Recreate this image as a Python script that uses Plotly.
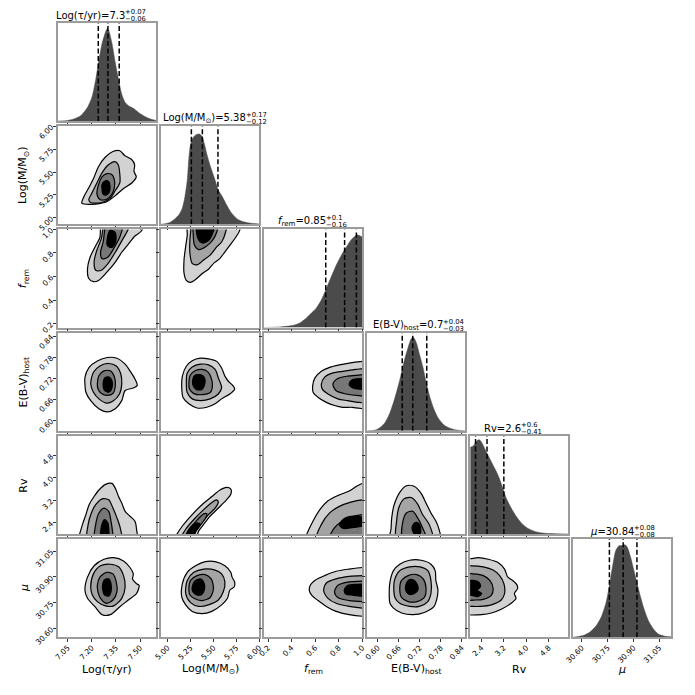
import plotly.graph_objects as go

# ---------------- data ----------------
LABELS = ["Log(τ/yr)", "Log(M/M<sub>⊙</sub>)", "<i>f</i><sub>rem</sub>",
          "E(B-V)<sub>host</sub>", "Rv", "<i>μ</i>"]
RANGES = [[6.99, 7.60], [4.93, 6.00], [0.167, 1.0], [0.57, 0.85], [2.0, 5.5], [30.55, 31.12]]
TICKVALS = [[7.05, 7.20, 7.35, 7.50], [5.00, 5.25, 5.50, 5.75, 6.00], [0.2, 0.4, 0.6, 0.8, 1.0],
            [0.60, 0.66, 0.72, 0.78, 0.84], [2.4, 3.2, 4.0, 4.8], [30.60, 30.75, 30.90, 31.05]]
TICKTEXT = [["7.05", "7.20", "7.35", "7.50"], ["5.00", "5.25", "5.50", "5.75", "6.00"],
            ["0.2", "0.4", "0.6", "0.8", "1.0"], ["0.60", "0.66", "0.72", "0.78", "0.84"],
            ["2.4", "3.2", "4.0", "4.8"], ["30.60", "30.75", "30.90", "31.05"]]
QUANTILES = [[7.24, 7.30, 7.37], [5.26, 5.38, 5.55], [0.69, 0.85, 0.95],
             [0.67, 0.70, 0.74], [2.19, 2.60, 3.20], [30.76, 30.84, 30.92]]
TITLE_MAIN = ["Log(τ/yr)=7.3", "Log(M/M<sub>⊙</sub>)=5.38", "<i>f</i><sub>rem</sub>=0.85",
              "E(B-V)<sub>host</sub>=0.7", "Rv=2.6", "<i>μ</i>=30.84"]
TITLE_PLUS = ["+0.07", "+0.17", "+0.1", "+0.04", "+0.6", "+0.08"]
TITLE_MINUS = ["−0.06", "−0.12", "−0.16", "−0.03", "−0.41", "−0.08"]

# 1-D marginal densities (normalised to peak = 1)
HIST_TAU_X = [6.990, 7.051, 7.092, 7.132, 7.173, 7.203, 7.224, 7.244, 7.264, 7.285, 7.295, 7.305,
              7.325, 7.346, 7.366, 7.386, 7.407, 7.427, 7.458, 7.488, 7.519, 7.559, 7.600]
HIST_TAU_Y = [0, 0.007, 0.025, 0.060, 0.149, 0.273, 0.450, 0.663, 0.844, 0.965, 1.0, 0.982,
              0.844, 0.631, 0.450, 0.291, 0.202, 0.167, 0.138, 0.096, 0.060, 0.025, 0.007]
HIST_M_X = [4.930, 5.019, 5.073, 5.126, 5.162, 5.190, 5.215, 5.233, 5.251, 5.276, 5.312, 5.347, 5.376,
            5.404, 5.429, 5.465, 5.519, 5.554, 5.597, 5.643, 5.697, 5.768, 5.840, 5.911, 6.000]
HIST_M_Y = [0, 0.018, 0.054, 0.108, 0.181, 0.307, 0.487, 0.740, 0.884, 0.957, 0.993, 1.0, 0.975,
            0.884, 0.776, 0.650, 0.487, 0.379, 0.307, 0.217, 0.126, 0.054, 0.025, 0.011, 0.004]
HIST_F_X = [0.167, 0.306, 0.389, 0.445, 0.486, 0.528, 0.570, 0.611, 0.653, 0.695, 0.736, 0.778,
            0.820, 0.862, 0.903, 0.931, 0.959, 0.978, 1.000]
HIST_F_Y = [0, 0.007, 0.018, 0.035, 0.063, 0.105, 0.158, 0.211, 0.298, 0.421, 0.544, 0.667,
            0.772, 0.860, 0.940, 0.975, 0.996, 0.989, 0.975]
HIST_E_X = [0.570, 0.593, 0.607, 0.621, 0.635, 0.649, 0.663, 0.675, 0.687, 0.696, 0.702, 0.710,
            0.719, 0.729, 0.738, 0.747, 0.759, 0.772, 0.789, 0.808, 0.827, 0.850]
HIST_E_Y = [0, 0.007, 0.035, 0.088, 0.193, 0.351, 0.544, 0.737, 0.895, 0.989, 1.0, 0.947,
            0.825, 0.684, 0.526, 0.386, 0.246, 0.140, 0.063, 0.025, 0.007, 0]
HIST_RV_X = [2.000, 2.117, 2.233, 2.327, 2.408, 2.525, 2.642, 2.817, 2.992, 3.167, 3.283, 3.458,
             3.633, 3.867, 4.100, 4.333, 4.683, 5.033, 5.500]
HIST_RV_Y = [0.920, 0.938, 0.990, 1.0, 0.972, 0.903, 0.833, 0.729, 0.625, 0.486, 0.382, 0.278,
             0.191, 0.104, 0.052, 0.024, 0.007, 0.003, 0]
HIST_MU_X = [30.550, 30.607, 30.645, 30.683, 30.711, 30.740, 30.759, 30.778, 30.797, 30.816, 30.831,
             30.850, 30.864, 30.883, 30.902, 30.921, 30.940, 30.959, 30.987, 31.016, 31.044,
             31.082, 31.120]
HIST_MU_Y = [0, 0.018, 0.053, 0.124, 0.212, 0.371, 0.548, 0.760, 0.936, 0.989, 0.989, 1.0, 0.972,
             0.866, 0.724, 0.583, 0.442, 0.318, 0.177, 0.088, 0.035, 0.011, 0.004]
HIST_TOP = [1.064, 1.087, 1.056, 1.053, 1.042, 1.06]

# 2-D credible-region outlines (outer -> inner)
C_TAU_M = [
    [(7.137, 5.161), (7.151, 5.233), (7.181, 5.329), (7.212, 5.436), (7.242, 5.561), (7.283, 5.661),
     (7.328, 5.721), (7.374, 5.732), (7.405, 5.679), (7.446, 5.639), (7.466, 5.579), (7.462, 5.507),
     (7.476, 5.447), (7.450, 5.383), (7.395, 5.318), (7.344, 5.240), (7.293, 5.176), (7.222, 5.151),
     (7.151, 5.151)],
    [(7.181, 5.197), (7.202, 5.276), (7.232, 5.383), (7.263, 5.490), (7.303, 5.579), (7.344, 5.614),
     (7.364, 5.579), (7.374, 5.472), (7.374, 5.383), (7.344, 5.293), (7.313, 5.211), (7.263, 5.168),
     (7.191, 5.168)],
    [(7.232, 5.258), (7.242, 5.365), (7.263, 5.447), (7.293, 5.482), (7.324, 5.472), (7.340, 5.418),
     (7.340, 5.329), (7.324, 5.258), (7.293, 5.204), (7.252, 5.197)],
    [(7.263, 5.365), (7.279, 5.400), (7.303, 5.400), (7.313, 5.347), (7.307, 5.276), (7.287, 5.247),
     (7.267, 5.268), (7.263, 5.318)],
]
C_TAU_F = [
    [(7.264, 1.056), (7.519, 1.056), (7.508, 0.986), (7.468, 0.944), (7.427, 0.875), (7.386, 0.806),
     (7.346, 0.722), (7.295, 0.639), (7.244, 0.569), (7.210, 0.556), (7.181, 0.583), (7.173, 0.667),
     (7.189, 0.764), (7.218, 0.847), (7.250, 0.931)],
    [(7.285, 1.056), (7.437, 1.056), (7.421, 0.986), (7.386, 0.903), (7.346, 0.806), (7.299, 0.708),
     (7.258, 0.653), (7.224, 0.653), (7.214, 0.722), (7.230, 0.819), (7.258, 0.917)],
    [(7.295, 1.056), (7.392, 1.056), (7.376, 0.944), (7.340, 0.847), (7.299, 0.764), (7.264, 0.750),
     (7.254, 0.806), (7.270, 0.889)],
    [(7.299, 0.944), (7.315, 0.994), (7.346, 0.972), (7.348, 0.894), (7.325, 0.847), (7.297, 0.861)],
]
C_TAU_E = [
    [(7.157, 0.722), (7.183, 0.751), (7.234, 0.769), (7.295, 0.779), (7.356, 0.777), (7.407, 0.760),
     (7.437, 0.741), (7.468, 0.718), (7.482, 0.699), (7.458, 0.692), (7.407, 0.685), (7.386, 0.656),
     (7.346, 0.633), (7.295, 0.624), (7.244, 0.633), (7.193, 0.656), (7.163, 0.680), (7.157, 0.704)],
    [(7.193, 0.704), (7.210, 0.737), (7.250, 0.755), (7.305, 0.762), (7.352, 0.755), (7.380, 0.732),
     (7.386, 0.704), (7.372, 0.675), (7.332, 0.655), (7.291, 0.649), (7.244, 0.661), (7.210, 0.680)],
    [(7.234, 0.704), (7.244, 0.727), (7.275, 0.741), (7.315, 0.741), (7.340, 0.724), (7.346, 0.699),
     (7.332, 0.677), (7.295, 0.671), (7.258, 0.677), (7.238, 0.690)],
    [(7.270, 0.704), (7.279, 0.720), (7.305, 0.724), (7.325, 0.713), (7.325, 0.692), (7.305, 0.680),
     (7.279, 0.685)],
]
C_TAU_RV = [
    [(7.122, 1.638), (7.122, 1.931), (7.142, 2.341), (7.163, 2.692), (7.183, 3.044), (7.214, 3.336),
     (7.244, 3.570), (7.285, 3.770), (7.325, 3.805), (7.346, 3.629), (7.366, 3.336), (7.386, 3.102),
     (7.407, 2.809), (7.437, 2.634), (7.468, 2.458), (7.478, 2.165), (7.478, 1.638)],
    [(7.173, 1.638), (7.177, 2.341), (7.197, 2.751), (7.224, 3.044), (7.264, 3.254), (7.305, 3.219),
     (7.331, 2.926), (7.356, 2.575), (7.376, 2.224), (7.386, 1.638)],
    [(7.218, 1.638), (7.224, 2.341), (7.244, 2.751), (7.275, 2.926), (7.305, 2.809), (7.319, 2.458),
     (7.331, 1.990), (7.336, 1.638)],
    [(7.258, 1.638), (7.260, 2.283), (7.279, 2.517), (7.299, 2.400), (7.307, 1.990), (7.307, 1.638)],
]
C_TAU_MU = [
    [(7.157, 30.823), (7.173, 30.899), (7.214, 30.965), (7.275, 31.003), (7.336, 31.012),
     (7.397, 30.993), (7.437, 30.955), (7.458, 30.918), (7.453, 30.889), (7.478, 30.861),
     (7.494, 30.851), (7.478, 30.804), (7.427, 30.766), (7.376, 30.729), (7.315, 30.681),
     (7.264, 30.681), (7.218, 30.729), (7.173, 30.776)],
    [(7.193, 30.842), (7.210, 30.918), (7.254, 30.965), (7.315, 30.974), (7.366, 30.959),
     (7.397, 30.908), (7.407, 30.842), (7.386, 30.776), (7.336, 30.732), (7.285, 30.732),
     (7.234, 30.757), (7.203, 30.795)],
    [(7.234, 30.851), (7.250, 30.899), (7.291, 30.927), (7.331, 30.918), (7.352, 30.870),
     (7.356, 30.814), (7.331, 30.766), (7.291, 30.747), (7.254, 30.776), (7.238, 30.814)],
    [(7.268, 30.861), (7.279, 30.884), (7.305, 30.889), (7.319, 30.861), (7.319, 30.814),
     (7.305, 30.789), (7.279, 30.795), (7.268, 30.823)],
]
C_M_F = [
    [(5.226, 1.101), (5.797, 1.101), (5.786, 0.990), (5.733, 0.921), (5.679, 0.865), (5.626, 0.810),
     (5.572, 0.754), (5.511, 0.718), (5.447, 0.662), (5.376, 0.624), (5.312, 0.579), (5.251, 0.551),
     (5.205, 0.568), (5.180, 0.629), (5.180, 0.740), (5.197, 0.851), (5.215, 0.949)],
    [(5.262, 1.101), (5.654, 1.101), (5.633, 0.976), (5.590, 0.893), (5.536, 0.851), (5.465, 0.782),
     (5.394, 0.740), (5.322, 0.699), (5.269, 0.712), (5.244, 0.796), (5.244, 0.907), (5.255, 1.004)],
    [(5.287, 1.101), (5.554, 1.101), (5.536, 0.976), (5.490, 0.907), (5.412, 0.851), (5.340, 0.829),
     (5.294, 0.865), (5.280, 0.962)],
    [(5.322, 1.074), (5.511, 1.074), (5.490, 0.962), (5.440, 0.901), (5.376, 0.885), (5.333, 0.921)],
]
C_M_E = [
    [(5.155, 0.693), (5.162, 0.726), (5.205, 0.754), (5.269, 0.770), (5.358, 0.777), (5.447, 0.775),
     (5.536, 0.768), (5.590, 0.749), (5.626, 0.726), (5.661, 0.712), (5.715, 0.698), (5.733, 0.689),
     (5.679, 0.675), (5.590, 0.661), (5.519, 0.647), (5.429, 0.637), (5.322, 0.635), (5.233, 0.647),
     (5.169, 0.665)],
    [(5.205, 0.703), (5.215, 0.735), (5.269, 0.752), (5.358, 0.760), (5.447, 0.758), (5.519, 0.745),
     (5.554, 0.721), (5.590, 0.693), (5.554, 0.675), (5.465, 0.661), (5.358, 0.656), (5.269, 0.661),
     (5.215, 0.679)],
    [(5.233, 0.707), (5.251, 0.730), (5.305, 0.742), (5.376, 0.745), (5.440, 0.738), (5.476, 0.721),
     (5.490, 0.698), (5.465, 0.679), (5.376, 0.673), (5.287, 0.676), (5.240, 0.689)],
    [(5.276, 0.717), (5.297, 0.728), (5.358, 0.730), (5.404, 0.721), (5.404, 0.701), (5.376, 0.688),
     (5.312, 0.688), (5.276, 0.701)],
]
C_M_RV = [
    [(5.073, 1.818), (5.098, 1.970), (5.162, 2.285), (5.269, 2.693), (5.376, 3.043), (5.483, 3.335),
     (5.572, 3.568), (5.643, 3.661), (5.690, 3.603), (5.690, 3.416), (5.643, 3.218), (5.554, 2.926),
     (5.465, 2.635), (5.394, 2.343), (5.340, 2.110), (5.305, 1.818)],
    [(5.144, 1.818), (5.198, 2.168), (5.287, 2.518), (5.394, 2.868), (5.483, 3.125), (5.536, 3.218),
     (5.554, 3.136), (5.519, 2.926), (5.447, 2.693), (5.376, 2.401), (5.312, 2.110), (5.269, 1.818)],
    [(5.190, 1.818), (5.233, 2.168), (5.305, 2.436), (5.394, 2.716), (5.429, 2.716), (5.412, 2.553),
     (5.351, 2.285), (5.297, 2.051), (5.251, 1.818)],
    [(5.215, 1.970), (5.251, 2.226), (5.322, 2.401), (5.358, 2.343), (5.322, 2.168), (5.269, 1.993)],
]
C_M_MU = [
    [(5.155, 30.785), (5.162, 30.861), (5.215, 30.927), (5.305, 30.965), (5.412, 30.989),
     (5.519, 30.989), (5.626, 30.965), (5.690, 30.927), (5.704, 30.899), (5.733, 30.870),
     (5.726, 30.842), (5.679, 30.823), (5.654, 30.776), (5.590, 30.738), (5.483, 30.700),
     (5.376, 30.687), (5.269, 30.700), (5.198, 30.738)],
    [(5.198, 30.804), (5.215, 30.880), (5.287, 30.927), (5.394, 30.946), (5.519, 30.940),
     (5.590, 30.918), (5.626, 30.870), (5.608, 30.814), (5.554, 30.766), (5.447, 30.738),
     (5.340, 30.729), (5.251, 30.751)],
    [(5.233, 30.823), (5.251, 30.880), (5.322, 30.908), (5.412, 30.914), (5.476, 30.889),
     (5.501, 30.833), (5.465, 30.781), (5.376, 30.763), (5.287, 30.776), (5.244, 30.795)],
    [(5.269, 30.842), (5.297, 30.876), (5.358, 30.889), (5.394, 30.870), (5.405, 30.833),
     (5.376, 30.800), (5.322, 30.795), (5.276, 30.814)],
]
C_F_E = [
    [(0.579, 0.698), (0.598, 0.721), (0.653, 0.740), (0.723, 0.751), (0.806, 0.758), (0.889, 0.763),
     (1.001, 0.768), (1.084, 0.768), (1.084, 0.628), (1.001, 0.633), (0.917, 0.637), (0.834, 0.637),
     (0.765, 0.642), (0.695, 0.651), (0.626, 0.665), (0.584, 0.679)],
    [(0.653, 0.703), (0.681, 0.723), (0.751, 0.735), (0.848, 0.740), (0.945, 0.745), (1.084, 0.745),
     (1.084, 0.651), (0.973, 0.651), (0.876, 0.656), (0.792, 0.661), (0.709, 0.675), (0.662, 0.688)],
    [(0.751, 0.703), (0.792, 0.719), (0.876, 0.726), (0.973, 0.729), (1.084, 0.729), (1.084, 0.670),
     (0.973, 0.670), (0.862, 0.675), (0.779, 0.684)],
    [(0.889, 0.704), (0.917, 0.716), (1.001, 0.719), (1.084, 0.719), (1.084, 0.688), (1.001, 0.688),
     (0.931, 0.691), (0.895, 0.698)],
]
C_F_RV = [
    [(0.515, 1.818), (0.529, 1.993), (0.579, 2.436), (0.640, 2.868), (0.709, 3.183), (0.792, 3.370),
     (0.889, 3.533), (0.959, 3.720), (1.001, 3.801), (1.084, 3.860), (1.084, 1.818)],
    [(0.612, 1.818), (0.653, 2.343), (0.723, 2.751), (0.806, 2.985), (0.903, 3.136), (1.001, 3.218),
     (1.084, 3.218), (1.084, 1.818)],
    [(0.723, 1.818), (0.765, 2.226), (0.834, 2.460), (0.931, 2.635), (1.001, 2.693), (1.084, 2.716),
     (1.084, 1.818)],
    [(0.806, 2.343), (0.848, 2.553), (0.931, 2.635), (1.001, 2.599), (1.084, 2.483), (1.001, 2.285),
     (0.917, 2.226), (0.834, 2.203)],
]
C_F_MU = [
    [(0.550, 30.823), (0.561, 30.855), (0.597, 30.880), (0.681, 30.908), (0.778, 30.933),
     (0.889, 30.946), (1.000, 30.955), (1.084, 30.955), (1.084, 30.672), (1.000, 30.672),
     (0.889, 30.681), (0.778, 30.700), (0.695, 30.729), (0.625, 30.763), (0.570, 30.795)],
    [(0.672, 30.823), (0.695, 30.865), (0.778, 30.889), (0.889, 30.903), (1.000, 30.908),
     (1.084, 30.908), (1.084, 30.719), (1.000, 30.719), (0.889, 30.729), (0.778, 30.747),
     (0.709, 30.776)],
    [(0.764, 30.814), (0.792, 30.851), (0.875, 30.870), (1.000, 30.876), (1.084, 30.876),
     (1.084, 30.757), (1.000, 30.757), (0.889, 30.763), (0.792, 30.781)],
    [(0.847, 30.823), (0.875, 30.851), (0.945, 30.857), (1.084, 30.851), (1.084, 30.789),
     (0.917, 30.795), (0.861, 30.800)],
]
C_E_RV = [
    [(0.635, 1.818), (0.638, 2.168), (0.640, 2.576), (0.647, 3.043), (0.663, 3.486), (0.682, 3.720),
     (0.705, 3.696), (0.724, 3.451), (0.738, 3.101), (0.752, 2.751), (0.766, 2.460), (0.775, 2.168),
     (0.778, 1.818)],
    [(0.654, 1.818), (0.654, 2.460), (0.660, 2.926), (0.675, 3.253), (0.696, 3.300), (0.714, 3.066),
     (0.728, 2.693), (0.747, 2.343), (0.756, 1.818)],
    [(0.672, 1.818), (0.672, 2.460), (0.682, 2.751), (0.700, 2.810), (0.714, 2.576), (0.728, 2.226),
     (0.738, 1.818)],
    [(0.698, 2.226), (0.706, 2.400), (0.717, 2.380), (0.723, 2.168), (0.720, 1.993), (0.706, 1.975)],
]
C_E_MU = [
    [(0.633, 30.785), (0.635, 30.870), (0.645, 30.937), (0.663, 30.974), (0.691, 30.997),
     (0.724, 30.997), (0.752, 30.974), (0.764, 30.937), (0.766, 30.880), (0.772, 30.823),
     (0.768, 30.766), (0.761, 30.729), (0.733, 30.694), (0.701, 30.681), (0.668, 30.691),
     (0.645, 30.719), (0.635, 30.747)],
    [(0.646, 30.823), (0.649, 30.889), (0.663, 30.937), (0.691, 30.959), (0.721, 30.959),
     (0.743, 30.937), (0.752, 30.880), (0.752, 30.804), (0.743, 30.757), (0.719, 30.729),
     (0.691, 30.729), (0.663, 30.747), (0.650, 30.776)],
    [(0.663, 30.833), (0.668, 30.880), (0.687, 30.908), (0.712, 30.914), (0.730, 30.889),
     (0.738, 30.833), (0.733, 30.781), (0.712, 30.757), (0.687, 30.757), (0.668, 30.781)],
    [(0.680, 30.851), (0.687, 30.880), (0.701, 30.884), (0.712, 30.861), (0.715, 30.827),
     (0.705, 30.804), (0.689, 30.800), (0.680, 30.823)],
]
C_RV_MU = [
    [(1.708, 31.003), (2.000, 31.006), (2.292, 31.012), (2.642, 31.003), (2.992, 30.984),
     (3.225, 30.946), (3.342, 30.899), (3.517, 30.880), (3.657, 30.857), (3.692, 30.833),
     (3.575, 30.804), (3.634, 30.776), (3.458, 30.747), (3.108, 30.713), (2.758, 30.691),
     (2.408, 30.681), (2.000, 30.679), (1.708, 30.679)],
    [(1.708, 30.959), (2.058, 30.965), (2.467, 30.959), (2.817, 30.940), (3.050, 30.908),
     (3.202, 30.861), (3.225, 30.804), (3.108, 30.766), (2.758, 30.738), (2.350, 30.729),
     (2.000, 30.729), (1.708, 30.729)],
    [(1.708, 30.918), (2.117, 30.918), (2.467, 30.908), (2.700, 30.880), (2.817, 30.833),
     (2.758, 30.795), (2.467, 30.770), (2.117, 30.766), (1.708, 30.766)],
    [(1.708, 30.870), (2.117, 30.880), (2.315, 30.868), (2.362, 30.842), (2.245, 30.823),
     (2.408, 30.804), (2.268, 30.785), (2.058, 30.793), (1.708, 30.800)],
]

HISTS = [(HIST_TAU_X, HIST_TAU_Y), (HIST_M_X, HIST_M_Y), (HIST_F_X, HIST_F_Y),
         (HIST_E_X, HIST_E_Y), (HIST_RV_X, HIST_RV_Y), (HIST_MU_X, HIST_MU_Y)]
CONTOURS = {(1, 0): C_TAU_M, (2, 0): C_TAU_F, (2, 1): C_M_F, (3, 0): C_TAU_E, (3, 1): C_M_E,
            (3, 2): C_F_E, (4, 0): C_TAU_RV, (4, 1): C_M_RV, (4, 2): C_F_RV, (4, 3): C_E_RV,
            (5, 0): C_TAU_MU, (5, 1): C_M_MU, (5, 2): C_F_MU, (5, 3): C_E_MU, (5, 4): C_RV_MU}

# ---------------- style / layout ----------------
W = H = 695
FONT = "DejaVu Sans"
FRAME = "#9c9c9c"
LEVEL_COLORS = ["#d2d2d2", "#a4a4a4", "#777777", "#000000"]
HIST_COLOR = "#4b4b4b"
TITLE_RIGHT_FRAC = [0.68, 0.867, 0.627, 0.777, 0.517, 0.617]


def col_left(j):
    return 50 + 105 * j


def row_top(i):
    return 19.3 + 105.2 * i


def px_x(p):
    return p / W


def px_y(p):
    return 1 - p / H


fig = go.Figure()
layout = dict(width=W, height=H, margin=dict(l=0, r=0, t=0, b=0), showlegend=False,
              paper_bgcolor="white", plot_bgcolor="white",
              font=dict(family=FONT, color="black"))
annotations = []

n = 0
for i in range(6):
    for j in range(i + 1):
        n += 1
        xs = f"x{n}" if n > 1 else "x"
        ys = f"y{n}" if n > 1 else "y"
        xname = f"xaxis{n}" if n > 1 else "xaxis"
        yname = f"yaxis{n}" if n > 1 else "yaxis"
        x0, x1 = col_left(j), col_left(j) + 100
        t0, t1 = row_top(i), row_top(i) + 100
        common = dict(showline=True, mirror=True, linecolor=FRAME, linewidth=1.5,
                      showgrid=False, zeroline=False, fixedrange=True,
                      tickfont=dict(size=7.5, family=FONT, color="black"))
        layout[xname] = dict(domain=[px_x(x0), px_x(x1)], range=RANGES[j], anchor=ys,
                             ticks="outside", ticklen=3.5, tickwidth=1, tickcolor="#333",
                             tickvals=TICKVALS[j], ticktext=TICKTEXT[j],
                             showticklabels=(i == 5), tickangle=-45,
                             ticklabelstandoff=-2, **common)
        if i == j:
            layout[yname] = dict(domain=[px_y(t1), px_y(t0)], range=[0, HIST_TOP[i]],
                                 anchor=xs, ticks="", showticklabels=False, **common)
            hx, hy = HISTS[i]
            fig.add_trace(go.Scatter(x=hx, y=hy, mode="lines", fill="tozeroy",
                                     fillcolor=HIST_COLOR,
                                     line=dict(color=HIST_COLOR, width=0.5, shape="spline",
                                               smoothing=0.7),
                                     xaxis=xs, yaxis=ys, hoverinfo="skip"))
            for q in QUANTILES[i]:
                fig.add_trace(go.Scatter(x=[q, q], y=[0, HIST_TOP[i]], mode="lines",
                                         line=dict(color="black", width=1.5, dash="5px,2.5px"),
                                         xaxis=xs, yaxis=ys, hoverinfo="skip"))
            xr = px_x(x0 + 100 * TITLE_RIGHT_FRAC[i])
            yt = px_y(t0)
            annotations.append(dict(text=TITLE_MAIN[i], x=xr, y=yt, xref="paper", yref="paper",
                                    xanchor="right", yanchor="middle", yshift=7.5, xshift=2,
                                    showarrow=False, font=dict(size=10, family=FONT)))
            annotations.append(dict(text=TITLE_PLUS[i], x=xr, y=yt, xref="paper", yref="paper",
                                    xanchor="left", yanchor="middle", yshift=11, xshift=-2,
                                    showarrow=False, font=dict(size=6.8, family=FONT)))
            annotations.append(dict(text=TITLE_MINUS[i], x=xr, y=yt, xref="paper", yref="paper",
                                    xanchor="left", yanchor="middle", yshift=4, xshift=-2,
                                    showarrow=False, font=dict(size=6.8, family=FONT)))
        else:
            layout[yname] = dict(domain=[px_y(t1), px_y(t0)], range=RANGES[i], anchor=xs,
                                 ticks="outside", ticklen=3.5, tickwidth=1, tickcolor="#333",
                                 tickvals=TICKVALS[i], ticktext=TICKTEXT[i],
                                 showticklabels=(j == 0), tickangle=-45, **common)
            for lev, poly in enumerate(CONTOURS[(i, j)]):
                px_ = [p[0] for p in poly] + [poly[0][0]]
                py_ = [p[1] for p in poly] + [poly[0][1]]
                fig.add_trace(go.Scatter(x=px_, y=py_, mode="lines", fill="toself",
                                         fillcolor=LEVEL_COLORS[lev],
                                         line=dict(color="black", width=1.2, shape="spline",
                                                   smoothing=0.8),
                                         xaxis=xs, yaxis=ys, hoverinfo="skip"))

# axis titles
for j in range(6):
    annotations.append(dict(text=LABELS[j], x=px_x(col_left(j) + 50), y=px_y(678),
                            xref="paper", yref="paper", xanchor="center", yanchor="middle",
                            showarrow=False, font=dict(size=11, family=FONT)))
for i in range(1, 6):
    annotations.append(dict(text=LABELS[i], x=px_x(15), y=px_y(row_top(i) + 50),
                            xref="paper", yref="paper", xanchor="center", yanchor="middle",
                            textangle=-90, showarrow=False, font=dict(size=11, family=FONT)))

layout["annotations"] = annotations
fig.update_layout(**layout)
fig.write_html("out.html", config={"displayModeBar": False},
               post_script="document.body.style.margin='0';document.body.style.padding='0';"
                           "document.body.style.overflow='hidden';")
